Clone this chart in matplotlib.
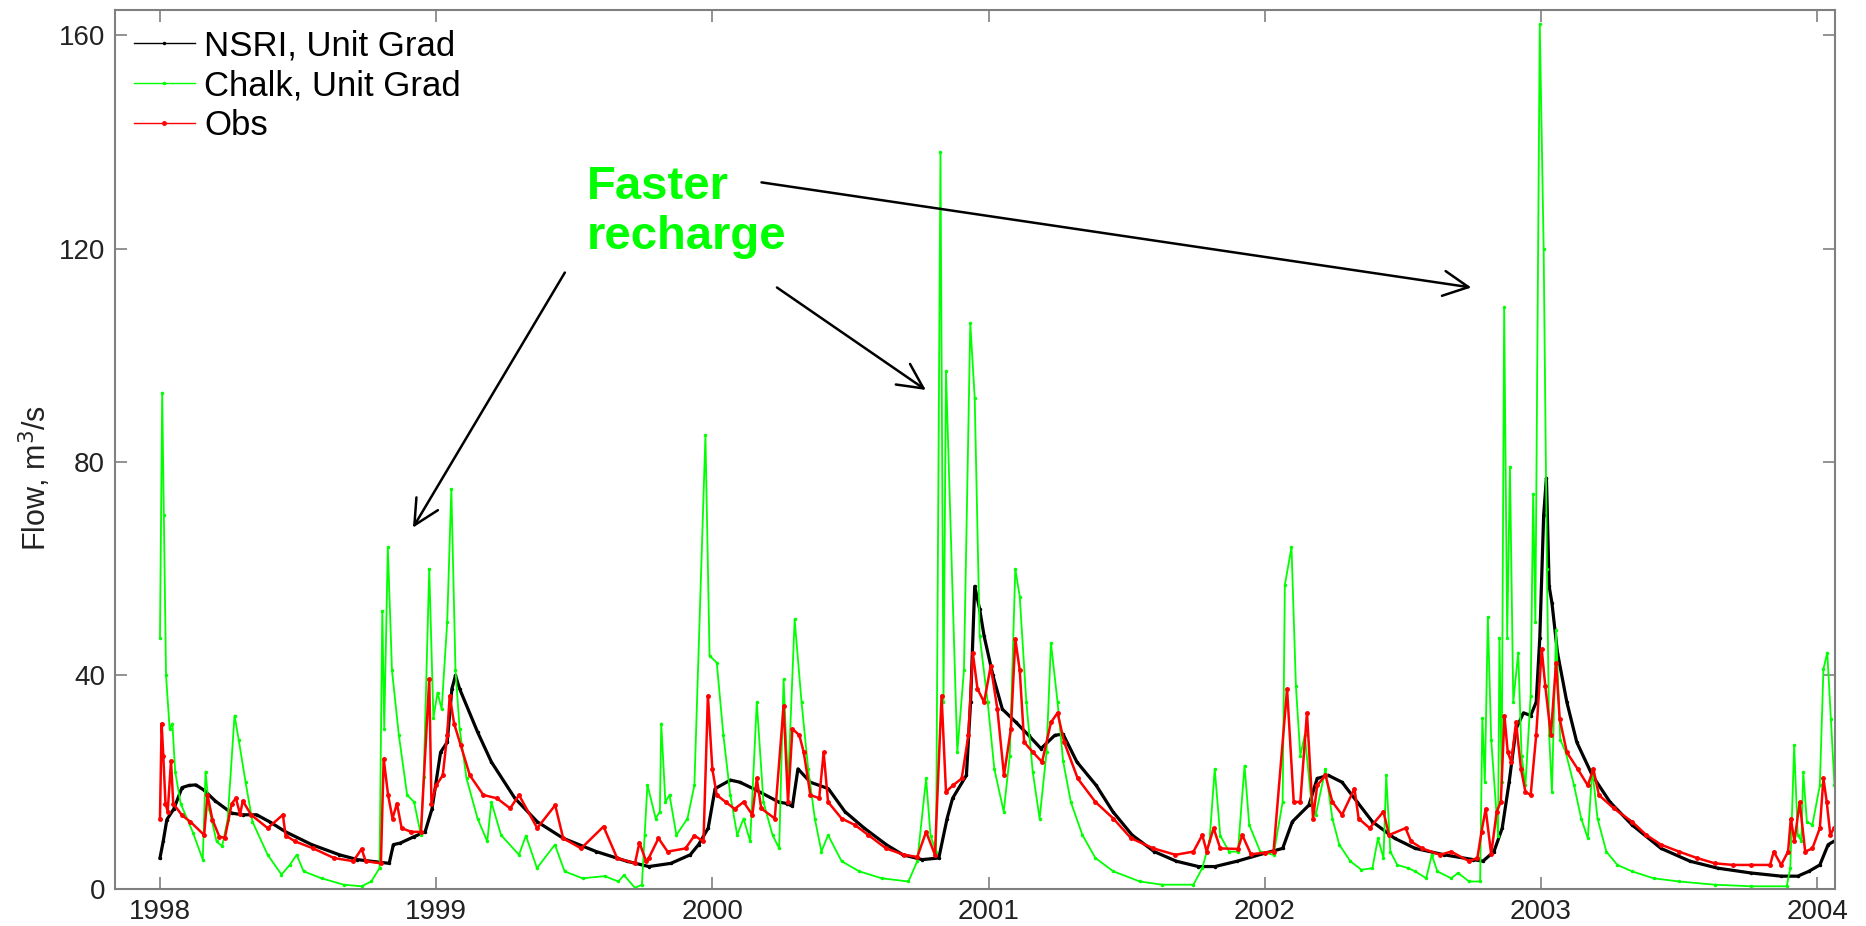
import matplotlib
matplotlib.use('Agg')
import matplotlib.pyplot as plt

# decimal years and flow (m3/s)
nsri_t = [1998.000, 1998.012, 1998.025, 1998.05, 1998.08, 1998.105, 1998.13, 1998.16, 1998.2, 1998.26,
          1998.3, 1998.35, 1998.4, 1998.455, 1998.55, 1998.65, 1998.715, 1998.83, 1998.845, 1998.87,
          1998.92, 1998.96, 1998.985, 1999.016, 1999.04, 1999.057, 1999.07, 1999.085, 1999.15, 1999.2,
          1999.285, 1999.366, 1999.46, 1999.58, 1999.69, 1999.77, 1999.85, 1999.92, 1999.95, 1999.985,
          2000.01, 2000.065, 2000.1, 2000.16, 2000.24, 2000.27, 2000.29, 2000.31, 2000.355, 2000.42,
          2000.48, 2000.55, 2000.63, 2000.69, 2000.76, 2000.82, 2000.85, 2000.87, 2000.92, 2000.935,
          2000.95, 2000.968, 2000.984, 2001.016, 2001.05, 2001.1, 2001.145, 2001.19, 2001.24, 2001.27,
          2001.32, 2001.39, 2001.45, 2001.52, 2001.6, 2001.68, 2001.76, 2001.82, 2001.9, 2002.0,
          2002.065, 2002.1, 2002.16, 2002.19, 2002.23, 2002.28, 2002.335, 2002.39, 2002.47, 2002.545,
          2002.65, 2002.755, 2002.79, 2002.83, 2002.86, 2002.885, 2002.91, 2002.937, 2002.963, 2002.983,
          2002.996, 2003.01, 2003.02, 2003.03, 2003.04, 2003.06, 2003.094, 2003.13, 2003.186, 2003.25,
          2003.33, 2003.435, 2003.54, 2003.64, 2003.76, 2003.87, 2003.93, 2003.97, 2004.01, 2004.04,
          2004.06]
nsri_q = [5.8, 9, 13, 15, 19, 19.4, 19.5, 18.5, 16.5, 14.2,
          13.9, 13.9, 12.5, 10.7, 8.3, 6.4, 5.5, 4.8, 8.3, 8.6,
          9.8, 10.7, 15, 25.6, 27.5, 37.5, 40, 37.5, 29.4, 23.8,
          17, 12.6, 9.5, 7, 5.2, 4.2, 4.8, 6.4, 8.3, 11.4,
          18.8, 20.4, 20, 18.5, 16.3, 16, 15.5, 22.5, 20, 18.8,
          14.5, 11.4, 8.3, 6.4, 5.5, 5.8, 13.2, 17, 21.3, 35,
          56.7, 52.4, 47.4, 40, 33.7, 31.2, 28.8, 26.3, 28.8, 29,
          23.8, 19.4, 14.5, 10.1, 7, 5.2, 4.2, 4.2, 5.2, 6.7,
          7.6, 12.6, 15.7, 20.7, 21.3, 20, 16.3, 12.6, 9.5, 7.6,
          6.4, 5.5, 5.2, 7, 11.4, 20, 30, 33, 32.5, 35,
          47, 70, 77, 56.7, 53.6, 44.3, 35, 27.5, 21.3, 16.3,
          12, 7.6, 5.2, 3.9, 3, 2.4, 2.4, 3.3, 4.5, 8.3,
          8.9]

chalk_t = [1998.000, 1998.008, 1998.014, 1998.022, 1998.035, 1998.045, 1998.055, 1998.075, 1998.12, 1998.155,
           1998.165, 1998.178, 1998.205, 1998.225, 1998.245, 1998.27, 1998.285, 1998.31, 1998.335, 1998.39,
           1998.44, 1998.47, 1998.495, 1998.52, 1998.585, 1998.665, 1998.73, 1998.765, 1998.795, 1998.805,
           1998.812, 1998.825, 1998.84, 1998.865, 1998.895, 1998.92, 1998.945, 1998.955, 1998.975, 1998.99,
           1999.005, 1999.02, 1999.04, 1999.055, 1999.07, 1999.085, 1999.11, 1999.15, 1999.185, 1999.2,
           1999.235, 1999.3, 1999.325, 1999.365, 1999.43, 1999.465, 1999.53, 1999.61, 1999.66, 1999.68,
           1999.72, 1999.745, 1999.755, 1999.765, 1999.795, 1999.81, 1999.815, 1999.83, 1999.845, 1999.87,
           1999.91, 1999.935, 1999.975, 1999.99, 2000.016, 2000.04, 2000.065, 2000.09, 2000.113, 2000.137,
           2000.161, 2000.185, 2000.218, 2000.242, 2000.258, 2000.274, 2000.298, 2000.323, 2000.347, 2000.371,
           2000.395, 2000.419, 2000.468, 2000.532, 2000.613, 2000.71, 2000.742, 2000.774, 2000.79, 2000.81,
           2000.826, 2000.837, 2000.846, 2000.887, 2000.911, 2000.934, 2000.95, 2000.968, 2000.997, 2001.021,
           2001.055, 2001.077, 2001.097, 2001.113, 2001.137, 2001.16, 2001.185, 2001.21, 2001.226, 2001.25,
           2001.27, 2001.298, 2001.34, 2001.387, 2001.452, 2001.548, 2001.629, 2001.742, 2001.774, 2001.8,
           2001.819, 2001.839, 2001.871, 2001.903, 2001.927, 2001.944, 2001.984, 2002.032, 2002.065, 2002.073,
           2002.097, 2002.113, 2002.129, 2002.145, 2002.169, 2002.185, 2002.22, 2002.245, 2002.27, 2002.31,
           2002.35, 2002.39, 2002.41, 2002.43, 2002.44, 2002.455, 2002.48, 2002.52, 2002.545, 2002.585,
           2002.605, 2002.625, 2002.675, 2002.7, 2002.74, 2002.78, 2002.788, 2002.797, 2002.808, 2002.82,
           2002.845, 2002.85, 2002.858, 2002.867, 2002.878, 2002.888, 2002.9, 2002.918, 2002.93, 2002.944,
           2002.963, 2002.972, 2002.98, 2002.996, 2003.01, 2003.022, 2003.03, 2003.04, 2003.055, 2003.07,
           2003.09, 2003.12, 2003.146, 2003.17, 2003.186, 2003.205, 2003.237, 2003.277, 2003.33, 2003.408,
           2003.5, 2003.63, 2003.76, 2003.89, 2003.903, 2003.917, 2003.93, 2003.943, 2003.95, 2003.963,
           2003.983, 2004.01, 2004.023, 2004.037, 2004.05, 2004.063]
chalk_q = [47, 93, 70, 40, 30, 31, 22, 16, 10.5, 5.5,
           22, 15, 8.9, 8, 13, 32.5, 28, 20, 12.6, 6.4,
           2.7, 4.5, 6.4, 3.3, 2, 0.8, 0.5, 1.4, 3.9, 52,
           30, 64, 41, 28.8, 17.6, 16.3, 10.1, 21, 60, 32,
           36.8, 33.7, 50, 75, 41, 30, 20.7, 13.2, 8.9, 16.3,
           10.1, 6.4, 10, 3.9, 8.3, 3.3, 2, 2.4, 1.4, 2.6,
           0.2, 0.8, 10.1, 19.5, 13.2, 14.5, 31, 16.3, 17.6, 10.1,
           13.2, 19.4, 85, 43.7, 42.4, 28.8, 17.6, 10.1, 13.2, 8.9,
           35, 16.3, 10.1, 7.6, 39.3, 19.4, 50.5, 35, 22.5, 13.2,
           7, 10.1, 5.2, 3.3, 2, 1.4, 5.2, 20.7, 10, 7,
           138, 35, 97, 25.6, 41, 106, 92, 47.4, 35, 22.5,
           14.5, 25, 60, 54.8, 35, 22, 13.2, 25.6, 46.1, 35,
           24, 16.3, 10.1, 5.8, 3.3, 1.4, 0.8, 0.8, 3.9, 8.9,
           22.5, 10, 7, 7, 23.1, 12, 7, 6.4, 16.3, 57,
           64, 38, 25, 28.8, 16.3, 13.9, 22.5, 13.2, 8.3, 5.2,
           3.6, 3.9, 9.5, 5.8, 21.3, 7, 4.5, 3.9, 3.3, 2,
           6.4, 3.3, 2, 3, 1.4, 1.4, 32, 20, 51, 28,
           10, 47, 20, 109, 47, 79, 35, 44.3, 25, 19.4,
           36.2, 74, 50, 162, 120, 60, 28.8, 18.2, 48.6, 28,
           25.6, 19.4, 13.2, 9.5, 22.5, 13.2, 7, 4.5, 3.3, 2,
           1.4, 0.8, 0.5, 0.5, 3.9, 26.9, 10.1, 9, 21.9, 12.6,
           12, 19.4, 41.2, 44.3, 31.9, 19.4]

obs_t = [1998.000, 1998.006, 1998.012, 1998.02, 1998.028, 1998.04, 1998.048, 1998.08, 1998.11, 1998.16,
         1998.172, 1998.19, 1998.215, 1998.235, 1998.26, 1998.275, 1998.29, 1998.3, 1998.33, 1998.39,
         1998.445, 1998.455, 1998.49, 1998.555, 1998.63, 1998.7, 1998.73, 1998.745, 1998.8, 1998.81,
         1998.826, 1998.842, 1998.858, 1998.875, 1998.91, 1998.945, 1998.975, 1998.983, 1999.0, 1999.024,
         1999.04, 1999.049, 1999.065, 1999.089, 1999.122, 1999.171, 1999.22, 1999.268, 1999.3, 1999.366,
         1999.431, 1999.46, 1999.525, 1999.606, 1999.655, 1999.72, 1999.736, 1999.76, 1999.77, 1999.805,
         1999.838, 1999.903, 1999.935, 1999.968, 1999.984, 2000.0, 2000.016, 2000.048, 2000.081, 2000.113,
         2000.145, 2000.161, 2000.177, 2000.226, 2000.258, 2000.274, 2000.29, 2000.315, 2000.331, 2000.355,
         2000.387, 2000.403, 2000.419, 2000.468, 2000.516, 2000.565, 2000.629, 2000.694, 2000.742, 2000.774,
         2000.806, 2000.83, 2000.846, 2000.871, 2000.903, 2000.927, 2000.943, 2000.96, 2000.984, 2001.008,
         2001.032, 2001.056, 2001.081, 2001.097, 2001.113, 2001.129, 2001.161, 2001.194, 2001.226, 2001.25,
         2001.274, 2001.323, 2001.387, 2001.452, 2001.516, 2001.597, 2001.677, 2001.742, 2001.774, 2001.79,
         2001.815, 2001.839, 2001.903, 2001.919, 2001.95, 2002.0, 2002.032, 2002.081, 2002.105, 2002.129,
         2002.153, 2002.175, 2002.19, 2002.22, 2002.245, 2002.28, 2002.325, 2002.34, 2002.38, 2002.43,
         2002.45, 2002.51, 2002.53, 2002.57, 2002.635, 2002.675, 2002.74, 2002.77, 2002.785, 2002.8,
         2002.82, 2002.84, 2002.855, 2002.868, 2002.88, 2002.893, 2002.91, 2002.928, 2002.944, 2002.963,
         2002.983, 2003.003, 2003.016, 2003.036, 2003.055, 2003.068, 2003.094, 2003.133, 2003.17, 2003.19,
         2003.21, 2003.264, 2003.33, 2003.382, 2003.435, 2003.5, 2003.565, 2003.63, 2003.696, 2003.76,
         2003.83, 2003.843, 2003.87, 2003.895, 2003.905, 2003.918, 2003.937, 2003.957, 2003.983, 2004.01,
         2004.023, 2004.035, 2004.048, 2004.061]
obs_q = [13.2, 31, 25, 16, 14.5, 24, 16, 13.8, 12.6, 10.1,
         17.6, 13, 9.8, 9.6, 16, 17, 14, 16.5, 13.9, 11.4,
         13.9, 10, 8.9, 7.6, 5.8, 5.2, 7.5, 5.2, 4.8, 24.4,
         17.6, 13.2, 16, 11.4, 10.7, 10.7, 39.3, 16, 19.4, 21.3,
         28.8, 36.2, 31, 26.9, 21.3, 17.6, 17, 15.1, 17.6, 11.4,
         15.7, 9.5, 7.6, 11.7, 5.8, 4.8, 8.7, 5.2, 5.8, 9.5,
         7, 7.6, 10, 8.9, 36.2, 22.5, 17.6, 16.3, 15, 16.3,
         13.9, 20.7, 15.1, 13.2, 34.3, 16.3, 30, 28.8, 25.6, 17.6,
         17, 25.6, 16.3, 13.2, 12, 10.1, 7.6, 6.4, 6, 10.7,
         6.4, 36.2, 18.2, 19.4, 20.7, 28.8, 44.3, 37.5, 35, 41.8,
         33.7, 21.3, 30, 46.8, 41, 27.5, 25.6, 23.8, 31.2, 33,
         27.5, 20.7, 16.3, 13.2, 9.5, 7.6, 6.4, 7, 10.1, 7,
         11.4, 7.6, 7.5, 10.1, 6.5, 6.8, 7, 37.5, 16.3, 16.3,
         33, 13.2, 19.4, 21.3, 16.3, 13.9, 18.8, 13.2, 11.4, 14.5,
         10.1, 11.4, 8.9, 7.6, 6.4, 7, 5.2, 5.8, 10.7, 15,
         6.5, 14.5, 16.3, 32.5, 25.6, 23.8, 31.2, 22.5, 18.2, 17.6,
         28.8, 44.9, 38, 28.8, 42.4, 31.9, 25.6, 22.5, 19.4, 22.5,
         17.6, 15.1, 12.6, 10.1, 8.3, 7, 5.8, 4.8, 4.5, 4.5,
         4.5, 7, 4.5, 7, 13.2, 8.9, 16.3, 7, 7.6, 11.4,
         20.7, 16.3, 10.1, 11.4]

year_ticks = [1998, 1999, 2000, 2001, 2002, 2003, 2004]
flow_ticks = [0, 40, 80, 120, 160]

plt.rcParams['font.family'] = ['Liberation Sans', 'DejaVu Sans']

fig = plt.figure(figsize=(18.66, 9.26), dpi=100)
ax = fig.add_axes([0.0616, 0.040, 0.9218, 0.9492])

ax.plot(nsri_t, nsri_q, color='black', lw=2.3, marker='.', ms=3, label='NSRI, Unit Grad')
ax.plot(chalk_t, chalk_q, color='#00ff00', lw=1.3, marker='.', ms=3, label='Chalk, Unit Grad')
ax.plot(obs_t, obs_q, color='red', lw=1.8, marker='.', ms=5, label='Obs')

ax.set_xlim(1997.837, 2004.065)
ax.set_ylim(0, 164.7)
ax.set_xticks(year_ticks)
ax.set_xticklabels([str(y) for y in year_ticks])
ax.set_yticks(flow_ticks)
ax.tick_params(direction='in', length=8.5, width=1.2, color='#808080', labelsize=20,
               labelcolor='#222222', top=True, right=True, pad=7)
for s in ax.spines.values():
    s.set_color('#808080')
    s.set_linewidth(1.5)
ax.set_ylabel('Flow, m$^3$/s', fontsize=22, color='#222222')
ax.yaxis.set_label_coords(-0.036, 0.468)

leg = ax.legend(loc='upper left', bbox_to_anchor=(0.011, 0.978), frameon=False, fontsize=25,
                borderpad=0, borderaxespad=0, labelspacing=0.2, handlelength=1.75, handletextpad=0.28)
for h in leg.get_lines():
    h.set_linewidth(1.0)

ax.text(1999.546, 120.0, 'Faster\nrecharge', color='#00ff00', fontsize=34, fontweight='bold',
        ha='left', va='baseline', linespacing=1.15)

arrow = dict(arrowstyle='->', color='black', lw=1.8, mutation_scale=45, shrinkA=0, shrinkB=0)
ax.annotate('', xy=(1998.916, 67.7), xytext=(1999.466, 115.5), arrowprops=arrow)
ax.annotate('', xy=(2000.773, 93.5), xytext=(2000.234, 112.7), arrowprops=arrow)
ax.annotate('', xy=(2002.748, 112.7), xytext=(2000.178, 132.4), arrowprops=arrow)

fig.savefig('out.png', dpi=100)
